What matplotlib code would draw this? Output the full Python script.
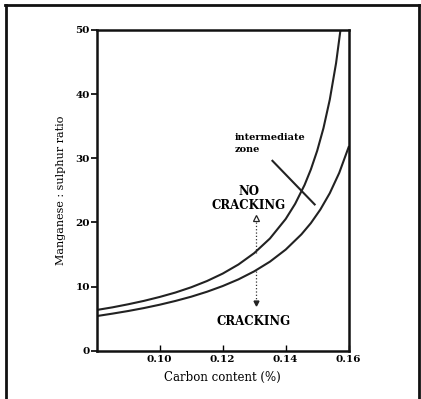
import matplotlib.pyplot as plt
from matplotlib.lines import Line2D

# boundary curves
upper_x = [0.080, 0.085, 0.090, 0.095, 0.100, 0.105, 0.110, 0.115, 0.120, 0.125, 0.130,
           0.135, 0.140, 0.143, 0.146, 0.148, 0.150, 0.152, 0.154, 0.156, 0.1574]
upper_y = [6.35, 6.76, 7.24, 7.77, 8.38, 9.07, 9.89, 10.86, 12.02, 13.44, 15.21,
           17.49, 20.53, 22.89, 25.84, 28.26, 31.16, 34.70, 39.13, 44.83, 50.0]
lower_x = [0.080, 0.085, 0.090, 0.095, 0.100, 0.105, 0.110, 0.115, 0.120, 0.125, 0.130,
           0.135, 0.140, 0.145, 0.148, 0.151, 0.154, 0.157, 0.160]
lower_y = [5.40, 5.78, 6.19, 6.65, 7.17, 7.76, 8.42, 9.19, 10.08, 11.12, 12.37,
           13.88, 15.76, 18.14, 19.89, 22.0, 24.55, 27.72, 31.75]

zone_x = [0.1358, 0.1492]
zone_y = [29.6, 22.8]

x_ticks = [0.10, 0.12, 0.14, 0.16]
x_labels = ['0.10', '0.12', '0.14', '0.16']
y_ticks = [0, 10, 20, 30, 40, 50]
y_labels = ['0', '10', '20', '30', '40', '50']

plt.rcParams['font.family'] = ['DejaVu Serif']
plt.rcParams['font.weight'] = 'bold'

fig = plt.figure(figsize=(4.21, 3.99), dpi=100)
ax = fig.add_axes([0.2297, 0.121, 0.5985, 0.804])

ax.plot(upper_x, upper_y, color='#222', lw=1.5)
ax.plot(lower_x, lower_y, color='#222', lw=1.5)
ax.plot(zone_x, zone_y, color='#222', lw=1.5)

# arrows to the regions
ax.plot([0.1305, 0.1305], [20.0, 15.3], color='#333', lw=0.9, ls=':')
ax.plot([0.1305], [20.7], marker='^', ms=4, mfc='white', mec='#222', mew=0.9)
ax.plot([0.1305, 0.1305], [12.4, 7.6], color='#333', lw=0.9, ls=':')
ax.plot([0.1305], [7.4], marker='v', ms=3.5, color='#222')

ax.text(0.1237, 33.2, 'intermediate', fontsize=7, ha='left', va='center')
ax.text(0.1237, 31.3, 'zone', fontsize=7, ha='left', va='center')
ax.text(0.1283, 24.8, 'NO', fontsize=8.5, ha='center', va='center')
ax.text(0.1283, 22.7, 'CRACKING', fontsize=8.5, ha='center', va='center')
ax.text(0.1297, 4.6, 'CRACKING', fontsize=8.5, ha='center', va='center')

ax.set_xlim(0.08, 0.16)
ax.set_ylim(0, 50)
ax.set_xticks(x_ticks)
ax.set_xticklabels(x_labels)
ax.set_yticks(y_ticks)
ax.set_yticklabels(y_labels)
ax.tick_params(axis='x', direction='in', length=4, width=1, labelsize=7.5, pad=3)
ax.tick_params(axis='y', direction='out', length=4, width=1.2, labelsize=7.5, pad=1)
for s in ax.spines.values():
    s.set_linewidth(1.8)
    s.set_color('#111')

ax.set_xlabel('Carbon content (%)', fontsize=8.5, labelpad=5)
ax.set_ylabel('Manganese : sulphur ratio', fontsize=8, labelpad=7)

# frame of the scanned figure
for xs, ys in [([0.012, 0.995], [0.987, 0.987]), ([0.015, 0.015], [0.0, 0.987]), ([0.995, 0.995], [0.0, 0.987])]:
    fig.add_artist(Line2D(xs, ys, transform=fig.transFigure, color='#111', lw=2))

plt.savefig('out.png', dpi=100)
